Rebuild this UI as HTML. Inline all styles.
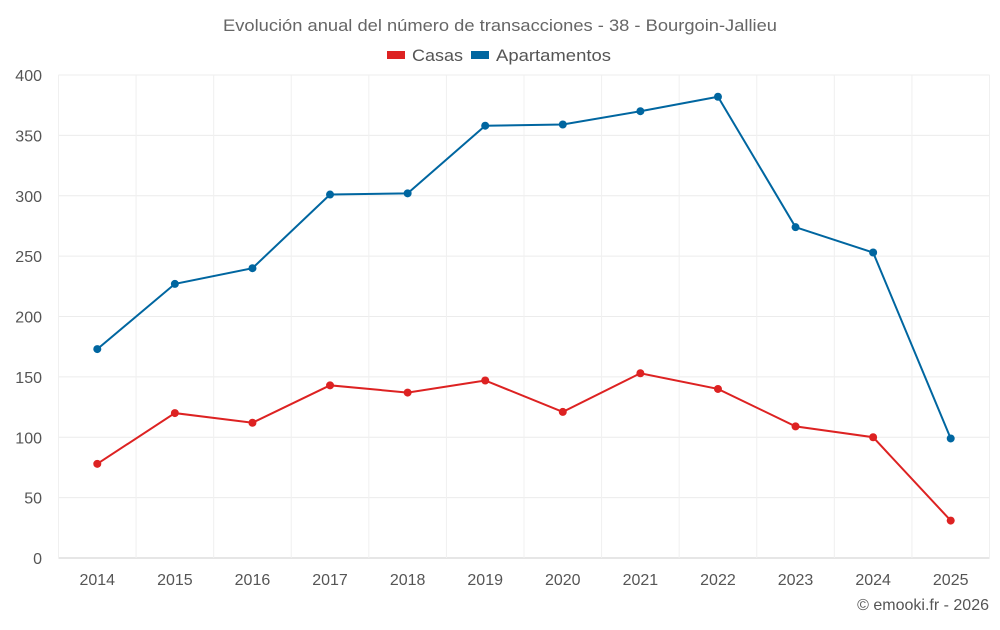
<!DOCTYPE html>
<html><head><meta charset="utf-8"><style>
body{margin:0;background:#fff;font-family:"Liberation Sans",sans-serif}
svg text{font-family:"Liberation Sans",sans-serif}
</style></head><body>
<svg id="c" width="1000" height="625">
<text x="223" y="31" textLength="554" lengthAdjust="spacingAndGlyphs" font-size="17" fill="#666">Evolución anual del número de transacciones - 38 - Bourgoin-Jallieu</text>
<g>
<g><rect x="387" y="51" width="18" height="8" fill="#dd2222"/><text x="412" y="61" textLength="51" lengthAdjust="spacingAndGlyphs" font-size="17" fill="#555">Casas</text></g>
<g><rect x="471" y="51" width="18" height="8" fill="#0066a0"/><text x="496" y="61" textLength="115" lengthAdjust="spacingAndGlyphs" font-size="17" fill="#555">Apartamentos</text></g>
</g>
<g id="grid"></g><g id="axes"></g><g id="series"></g>
<text x="989" y="610" text-anchor="end" font-size="16" fill="#555">© emooki.fr - 2026</text>
</svg>
<script>
const years=["2014","2015","2016","2017","2018","2019","2020","2021","2022","2023","2024","2025"];
const casas=[78,120,112,143,137,147,121,153,140,109,100,31];
const apartamentos=[173,227,240,301,302,358,359,370,382,274,253,99];
const yTicks=[0,50,100,150,200,250,300,350,400];
const NS="http://www.w3.org/2000/svg";
const L=58.5,R=989.5,T=75,B=558,bw=(R-L)/years.length;
const x=i=>L+bw*(i+0.5), y=v=>B-(v/400)*(B-T);
function mk(t,a,p){const e=document.createElementNS(NS,t);for(const k in a)e.setAttribute(k,a[k]);p.appendChild(e);return e;}
const g=document.getElementById('grid'),ax=document.getElementById('axes'),s=document.getElementById('series');
yTicks.forEach(v=>{
 const l=mk('line',{x1:L,x2:R,y1:y(v),y2:y(v),stroke:v?'#ececec':'#ccc'},g);
 
 
 const t=mk('text',{x:42,y:y(v)+6,'text-anchor':'end','font-size':16,fill:'#555'},ax);t.textContent=v;
 
 
});
for(let i=0;i<=years.length;i++){
 const l=mk('line',{x1:L+bw*i,x2:L+bw*i,y1:T,y2:B,stroke:'#f0f0f0'},g);
 
 
}
years.forEach((yr,i)=>{
 const t=mk('text',{x:x(i),y:585,'text-anchor':'middle','font-size':16,fill:'#555'},ax);t.textContent=yr;
 
 
});
[[apartamentos,'#0066a0','apartamentos'],[casas,'#dd2222','casas']].forEach(([d,c,n])=>{
 const p=mk('polyline',{points:d.map((v,i)=>x(i)+','+y(v)).join(' '),fill:'none',stroke:c,'stroke-width':2},s);
 
 
 d.forEach((v,i)=>{const e=mk('circle',{cx:x(i),cy:y(v),r:4,fill:c},s);
  
  });
});
</script>
</body></html>
